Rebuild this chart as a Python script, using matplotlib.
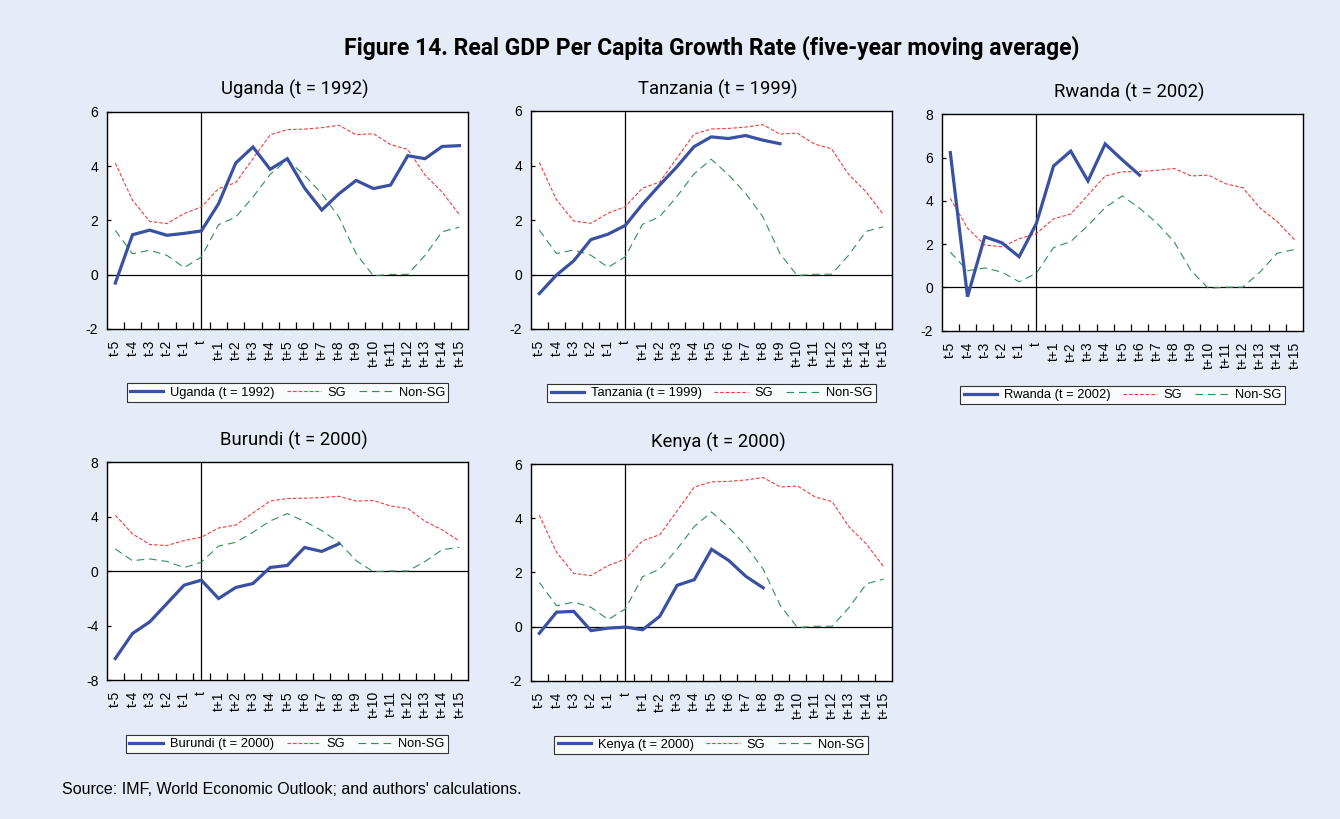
import matplotlib
matplotlib.use("Agg")
import matplotlib.pyplot as plt
from matplotlib.lines import Line2D

plt.rcParams["font.family"] = ["Liberation Sans", "DejaVu Sans"]
plt.rcParams["lines.scale_dashes"] = False

W, H = 1340, 819
BG = "#e5ecf7"
BLUE = "#3a51a3"
RED = "#f03c3c"
GREEN = "#2f9157"

periods = ["t-5", "t-4", "t-3", "t-2", "t-1", "t",
           "t+1", "t+2", "t+3", "t+4", "t+5", "t+6", "t+7", "t+8",
           "t+9", "t+10", "t+11", "t+12", "t+13", "t+14", "t+15"]

# reference groups: strong-growth and non-strong-growth averages
sg = [4.11, 2.74, 1.96, 1.88, 2.25, 2.49, 3.17, 3.39, 4.27, 5.15, 5.34,
      5.36, 5.41, 5.50, 5.15, 5.19, 4.79, 4.61, 3.67, 3.04, 2.21]
non_sg = [1.63, 0.77, 0.90, 0.71, 0.26, 0.65, 1.84, 2.12, 2.86, 3.69, 4.23,
          3.66, 2.98, 2.12, 0.77, -0.04, 0.01, 0.01, 0.71, 1.58, 1.75]

uganda = [-0.31, 1.47, 1.64, 1.45, 1.52, 1.61, 2.61, 4.11, 4.70, 3.88, 4.27,
          3.19, 2.38, 2.98, 3.47, 3.17, 3.30, 4.38, 4.27, 4.72, 4.75]
tanzania = [-0.70, -0.02, 0.50, 1.28, 1.48, 1.80, 2.58, 3.28, 3.95, 4.69,
            5.05, 4.99, 5.10, 4.93, 4.80]
rwanda = [6.23, -0.43, 2.34, 2.06, 1.42, 2.95, 5.61, 6.30, 4.92, 6.63,
          5.89, 5.19]
burundi = [-6.42, -4.58, -3.73, -2.38, -1.03, -0.66, -2.01, -1.20, -0.91,
           0.27, 0.42, 1.74, 1.45, 2.01]
kenya = [-0.25, 0.53, 0.56, -0.15, -0.06, -0.02, -0.12, 0.38, 1.52, 1.73,
         2.85, 2.44, 1.85, 1.43]

fig = plt.figure(figsize=(W / 100, H / 100), dpi=100, facecolor=BG)


def add_panel(box, name, year, values, yticks, legend_center):
    left, top, right, bottom = box
    ax = fig.add_axes([left / W, 1 - bottom / H, (right - left) / W,
                       (bottom - top) / H])
    ax.set_facecolor("white")
    x = list(range(len(periods)))

    ax.axhline(0, color="black", lw=0.9, zorder=1)
    ax.axvline(periods.index("t"), color="black", lw=0.9, zorder=1)
    ax.plot(x, sg, color=RED, lw=0.8, dashes=(2.6, 1.4), zorder=2)
    ax.plot(x, non_sg, color=GREEN, lw=0.8, dashes=(5.5, 3.5), zorder=2)
    ax.plot(range(len(values)), values, color=BLUE, lw=2.3, zorder=3,
            solid_joinstyle="miter")

    ax.set_xlim(-0.5, len(periods) - 0.5)
    ax.set_ylim(yticks[0], yticks[-1])
    ax.set_yticks(yticks)
    ax.set_yticklabels([str(v) for v in yticks])
    ax.set_xticks(x)
    ax.set_xticklabels(periods, rotation=90)
    ax.set_xticks([i + 0.5 for i in range(len(periods) - 1)], minor=True)
    ax.tick_params(axis="x", which="major", length=0, pad=8, labelsize=10)
    ax.tick_params(axis="x", which="minor", length=5, direction="in",
                   width=0.9)
    ax.tick_params(axis="y", length=3, direction="in", width=0.9,
                   labelsize=10, pad=6)
    for s in ax.spines.values():
        s.set_linewidth(1.0)

    cx = (left + right) / 2 + 7
    fig.text(cx / W, 1 - (top - 22) / H, f"{name} (t = {year})",
             ha="center", va="center", fontsize=13.3, family="Roboto")

    handles = [Line2D([], [], color=BLUE, lw=2.3),
               Line2D([], [], color=RED, lw=0.8, dashes=(2.6, 1.4)),
               Line2D([], [], color=GREEN, lw=0.8, dashes=(5.5, 3.5))]
    labels = [f"{name} (t = {year})", "SG", "Non-SG"]
    leg = fig.legend(handles, labels, loc="center", ncol=3,
                     bbox_to_anchor=(legend_center[0] / W,
                                     1 - legend_center[1] / H),
                     fontsize=9.3, frameon=True, fancybox=False,
                     edgecolor="black", borderpad=0.25, handlelength=2.6,
                     handletextpad=0.5, columnspacing=1.0,
                     borderaxespad=0)
    leg.get_frame().set_linewidth(0.8)
    return ax


add_panel((106.7, 111.7, 468, 329), "Uganda", 1992, uganda,
          [-2, 0, 2, 4, 6], (287.5, 392.5))
add_panel((530.7, 111, 891.7, 329), "Tanzania", 1999, tanzania,
          [-2, 0, 2, 4, 6], (711.5, 393))
add_panel((941.7, 114.3, 1303, 330.7), "Rwanda", 2002, rwanda,
          [-2, 0, 2, 4, 6, 8], (1122.5, 395))
add_panel((106.7, 462.3, 468, 680), "Burundi", 2000, burundi,
          [-8, -4, 0, 4, 8], (287, 744))
add_panel((530.7, 464, 892.3, 680.7), "Kenya", 2000, kenya,
          [-2, 0, 2, 4, 6], (711, 745))

fig.text(712 / W, 1 - 48 / H,
         "Figure 14. Real GDP Per Capita Growth Rate (five-year moving average)",
         ha="center", va="center", fontsize=16.5, fontweight="bold",
         family="Roboto")
fig.text(62 / W, 1 - 789 / H,
         "Source: IMF, World Economic Outlook; and authors' calculations.",
         ha="left", va="center", fontsize=11.5)

fig.savefig("out.png", dpi=100, facecolor=BG)
